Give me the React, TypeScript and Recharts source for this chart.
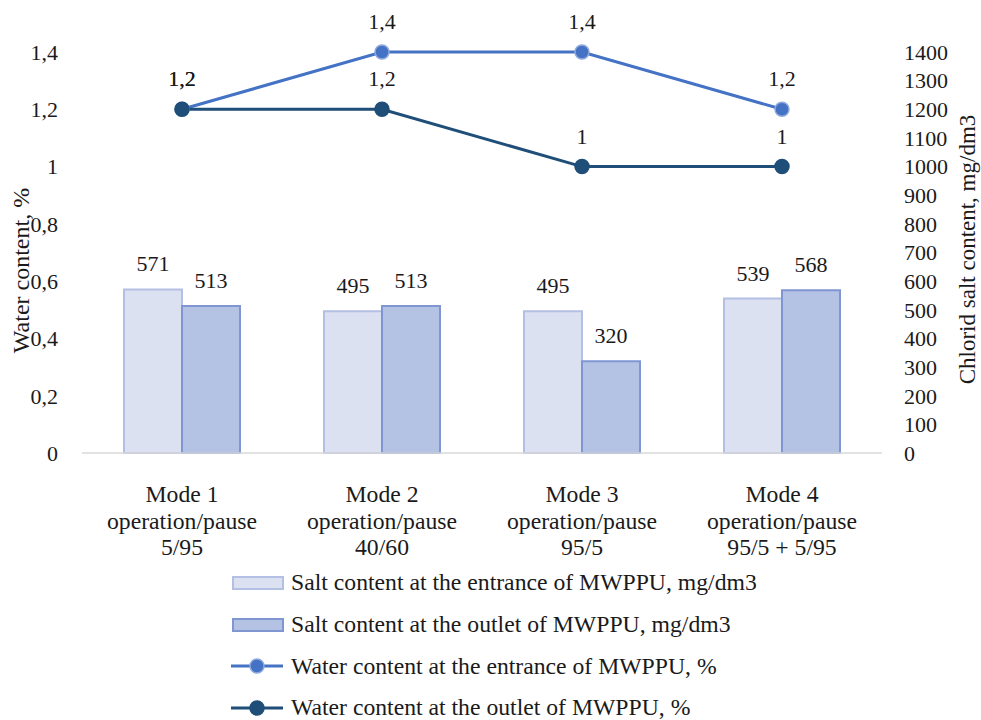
import { Bar, ComposedChart, LabelList, Line, XAxis, YAxis } from "recharts";

const modes = ["Mode 1", "Mode 2", "Mode 3", "Mode 4"];
const regimes = ["5/95", "40/60", "95/5", "95/5 + 5/95"];
const saltEntrance = [571, 495, 495, 539];
const saltOutlet = [513, 513, 320, 568];
const waterEntrance = [1.2, 1.4, 1.4, 1.2];
const waterOutlet = [1.2, 1.2, 1, 1];
const waterTicks = [0, 0.2, 0.4, 0.6, 0.8, 1, 1.2, 1.4];
const saltTicks = [0, 100, 200, 300, 400, 500, 600, 700, 800, 900, 1000, 1100, 1200, 1300, 1400];

const FONT = '"Liberation Serif", "Times New Roman", serif';
const TEXT = "#1a1a1a";
const BIG = 23.7;
const SMALL = 22;

if (typeof document !== "undefined") {
  document.body.style.margin = "0";
  document.documentElement.style.overflow = "hidden";
}

const series = [
  { key: "saltIn", name: "Salt content at the entrance of MWPPU, mg/dm3", kind: "bar", fill: "#dbe1f1", stroke: "#b3c0e3" },
  { key: "saltOut", name: "Salt content at the outlet of MWPPU, mg/dm3", kind: "bar", fill: "#b4c2e4", stroke: "#7f96d2" },
  { key: "waterIn", name: "Water content at the entrance of MWPPU, %", kind: "line", fill: "#4472c4", stroke: "#4472c4", dotStroke: "#8fa9dd" },
  { key: "waterOut", name: "Water content at the outlet of MWPPU, %", kind: "line", fill: "#1f4e79", stroke: "#1f4e79", dotStroke: "#1f4e79" },
];

const data = modes.map((m, i) => ({
  mode: m,
  saltIn: saltEntrance[i],
  saltOut: saltOutlet[i],
  waterIn: waterEntrance[i],
  waterOut: waterOutlet[i],
}));

const comma = (v: number | string) => String(v).replace(".", ",");

function ModeTick(props: any) {
  const { x, y, payload, index } = props;
  const i = typeof index === "number" ? index : modes.indexOf(payload.value);
  return (
    <text x={x} y={y} textAnchor="middle" fontFamily={FONT} fontSize={BIG} fill={TEXT}>
      <tspan x={x} dy={47}>{payload.value}</tspan>
      <tspan x={x} dy={27}>operation/pause</tspan>
      <tspan x={x} dy={26}>{regimes[i]}</tspan>
    </text>
  );
}

// rotated axis title, placed from the axis viewBox
function AxisTitle(props: any) {
  const { viewBox, value, dx = 0, dy = 0, size = SMALL } = props;
  const cx = viewBox.x + viewBox.width / 2 + dx;
  const cy = viewBox.y + viewBox.height / 2 + dy;
  return (
    <text
      x={cx}
      y={cy}
      transform={`rotate(-90 ${cx} ${cy})`}
      textAnchor="middle"
      dominantBaseline="central"
      fontFamily={FONT}
      fontSize={size}
      fill={TEXT}
    >
      {value}
    </text>
  );
}

function LegendBox() {
  return (
    <div style={{ position: "absolute", top: 562, left: 231, fontFamily: FONT, fontSize: BIG, color: TEXT }}>
      {series.map((s) => (
        <div key={s.key} style={{ display: "flex", alignItems: "center", height: 41.7, whiteSpace: "nowrap" }}>
          <svg width={58} height={20} style={{ marginRight: 2 }}>
            {s.kind === "bar" ? (
              <rect x={2} y={4} width={50} height={12} fill={s.fill} stroke={s.stroke} strokeWidth={2} />
            ) : (
              <g>
                <line x1={0} y1={10} x2={52} y2={10} stroke={s.stroke} strokeWidth={3} />
                <circle cx={26} cy={10} r={7} fill={s.fill} stroke={s.dotStroke} strokeWidth={1.5} />
              </g>
            )}
          </svg>
          <span>{s.name}</span>
        </div>
      ))}
    </div>
  );
}

export default function App() {
  const [bIn, bOut, lIn, lOut] = series;
  const labelStyle = { fontFamily: FONT, fontSize: SMALL, fill: TEXT };
  return (
    <div style={{ width: 981, height: 720, position: "relative", background: "#fff", overflow: "hidden" }}>
      <ComposedChart
        width={981}
        height={720}
        data={data}
        margin={{ top: 52, right: 0, bottom: 157, left: 0 }}
        barCategoryGap="21%"
        barGap={0}
      >
        <XAxis
          dataKey="mode"
          axisLine={{ stroke: "#d9d9d9", strokeWidth: 1.5 }}
          tickLine={false}
          tickSize={0}
          height={110}
          interval={0}
          tick={<ModeTick />}
        />
        <YAxis
          yAxisId="left"
          orientation="left"
          width={82}
          domain={[0, 1.4]}
          ticks={waterTicks}
          interval={0}
          axisLine={false}
          tickLine={false}
          tickSize={0}
          tickMargin={24}
          tickFormatter={comma}
          tick={labelStyle}
          label={<AxisTitle value="Water content, %" dx={-20} dy={18} size={24} />}
        />
        <YAxis
          yAxisId="right"
          orientation="right"
          width={99}
          domain={[0, 1400]}
          ticks={saltTicks}
          interval={0}
          axisLine={false}
          tickLine={false}
          tickSize={0}
          tickMargin={22}
          tick={{ ...labelStyle, textAnchor: "start" }}
          label={<AxisTitle value="Chlorid salt content, mg/dm3" dx={36} dy={-3} size={23} />}
        />
        <Bar yAxisId="right" dataKey={bIn.key} name={bIn.name} fill={bIn.fill} stroke={bIn.stroke} strokeWidth={2} isAnimationActive={false}>
          <LabelList dataKey={bIn.key} position="top" offset={18} style={labelStyle} />
        </Bar>
        <Bar yAxisId="right" dataKey={bOut.key} name={bOut.name} fill={bOut.fill} stroke={bOut.stroke} strokeWidth={2} isAnimationActive={false}>
          <LabelList dataKey={bOut.key} position="top" offset={18} style={labelStyle} />
        </Bar>
        <Line
          yAxisId="left"
          dataKey={lIn.key}
          name={lIn.name}
          stroke={lIn.stroke}
          strokeWidth={3}
          dot={{ r: 7, fill: lIn.fill, stroke: lIn.dotStroke, strokeWidth: 1.5 }}
          activeDot={false}
          isAnimationActive={false}
        >
          <LabelList dataKey={lIn.key} position="top" offset={23} formatter={comma} style={labelStyle} />
        </Line>
        <Line
          yAxisId="left"
          dataKey={lOut.key}
          name={lOut.name}
          stroke={lOut.stroke}
          strokeWidth={3}
          dot={{ r: 7, fill: lOut.fill, stroke: lOut.dotStroke, strokeWidth: 1.5 }}
          activeDot={false}
          isAnimationActive={false}
        >
          <LabelList dataKey={lOut.key} position="top" offset={23} formatter={comma} style={labelStyle} />
        </Line>
      </ComposedChart>
      <LegendBox />
    </div>
  );
}
